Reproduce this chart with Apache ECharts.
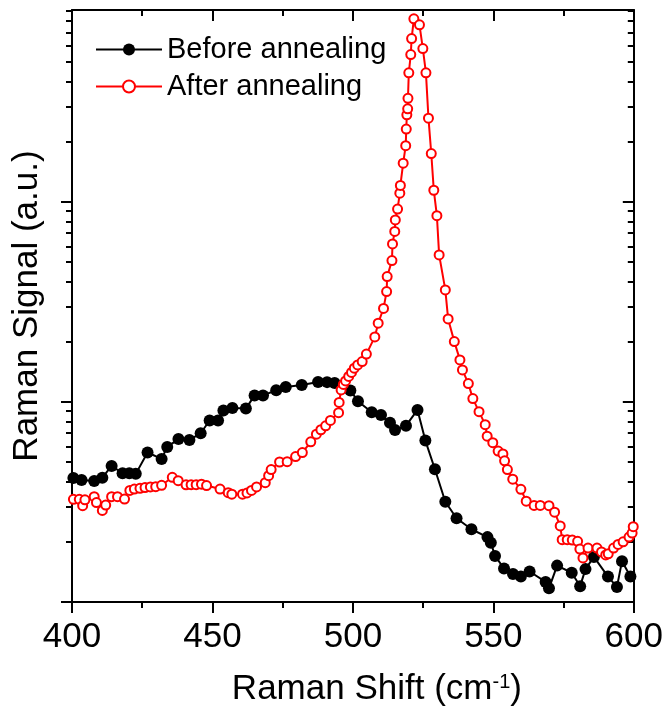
<!DOCTYPE html>
<html lang="en" style="height: 100%">
<head>
    <meta charset="utf-8">
    <script src="https://cdn.jsdelivr.net/npm/echarts@6/dist/echarts.min.js"></script>
</head>
<body style="height: 100%; margin: 0; background: #fff">
<div id="container" style="width: 666px; height: 715px"></div>
<script type="text/javascript">
    // Raman shift (cm-1) and signal (a.u., log scale)
    var shiftBefore = [400.5, 403.4, 407.9, 410.8, 414.1, 418.0, 420.4, 422.7, 426.9, 431.9,
        433.9, 437.9, 441.8, 445.8, 449.0, 452.0, 453.9, 457.1, 461.9, 465.0,
        468.0, 472.7, 476.1, 481.8, 487.6, 490.8, 493.5, 499.1, 501.8, 506.7,
        510.0, 513.2, 515.0, 518.9, 523.0, 525.8, 529.2, 532.9, 536.9, 542.2,
        547.9, 549.1, 550.6, 553.8, 557.0, 559.8, 562.9, 568.6, 569.8, 572.7,
        577.9, 580.9, 582.8, 585.8, 590.8, 594.0, 595.8, 598.8];
    var signalBefore = [4.17, 4.07, 4.03, 4.18, 4.79, 4.40, 4.40, 4.37, 5.59, 5.19,
        5.96, 6.52, 6.46, 6.97, 8.08, 8.08, 9.07, 9.33, 9.26, 10.78,
        10.78, 11.44, 11.89, 12.16, 12.59, 12.56, 12.45, 11.42, 10.08, 8.88,
        8.61, 7.88, 7.24, 7.61, 9.12, 6.41, 4.61, 3.17, 2.62, 2.31,
        2.11, 1.98, 1.70, 1.47, 1.38, 1.34, 1.42, 1.26, 1.17, 1.52,
        1.40, 1.20, 1.46, 1.68, 1.34, 1.19, 1.60, 1.34];

    var shiftAfter = [400.5, 402.6, 403.8, 404.6, 407.9, 408.7, 410.8, 412.0, 414.1, 416.2,
        418.7, 420.6, 422.2, 424.2, 426.0, 427.9, 429.8, 431.9, 435.7, 437.8,
        440.6, 442.4, 444.2, 446.1, 447.9, 452.7, 455.6, 456.9, 460.7, 462.3,
        463.9, 465.7, 468.8, 470.0, 470.9, 473.9, 476.6, 479.6, 482.0, 485.0,
        487.0, 488.6, 490.3, 492.0, 494.9, 495.1, 495.8, 496.6, 497.4, 498.5,
        499.5, 500.5, 501.7, 503.3, 504.8, 507.8, 509.0, 510.9, 512.0, 512.2,
        513.9, 514.1, 514.9, 515.1, 515.9, 516.7, 516.9, 517.9, 518.8, 519.0,
        519.2, 519.5, 519.6, 519.9, 520.6, 520.9, 521.7, 523.7, 524.9, 526.0,
        526.9, 527.9, 528.8, 529.9, 530.7, 532.9, 533.9, 536.1, 538.1, 539.0,
        541.1, 542.7, 544.9, 547.1, 547.8, 549.8, 551.7, 553.4, 554.0, 555.0,
        556.9, 559.8, 561.7, 564.5, 566.7, 569.8, 571.8, 573.8, 574.5, 576.3,
        578.1, 580.0, 580.8, 581.9, 583.7, 586.9, 588.5, 590.0, 590.9, 592.8,
        594.4, 596.2, 598.3, 599.4, 599.8];
    var signalAfter = [3.26, 3.26, 3.03, 3.24, 3.36, 3.14, 2.87, 3.05, 3.36, 3.36,
        3.27, 3.61, 3.67, 3.70, 3.73, 3.76, 3.77, 3.83, 4.20, 4.04,
        3.85, 3.86, 3.86, 3.88, 3.82, 3.67, 3.52, 3.46, 3.46, 3.51,
        3.61, 3.76, 3.95, 4.28, 4.59, 5.01, 5.03, 5.33, 5.58, 6.32,
        6.90, 7.26, 7.60, 8.08, 8.84, 9.94, 11.48, 12.23, 12.74, 13.42,
        14.05, 14.74, 15.31, 15.91, 17.34, 21.13, 24.75, 29.35, 35.60, 42.32,
        50.87, 61.66, 71.20, 81.28, 92.04, 110.5, 120.9, 156.1, 191.0, 231.2,
        272.3, 291.7, 329.3, 441.6, 545.0, 654.6, 822.2, 767.4, 584.1, 441.6,
        262.1, 174.4, 114.3, 85.3, 54.3, 36.3, 26.0, 20.02, 16.22, 14.45,
        12.35, 10.39, 8.94, 7.70, 6.74, 6.26, 5.68, 5.50, 5.08, 4.59,
        4.11, 3.66, 3.19, 3.04, 3.04, 3.03, 2.81, 2.40, 2.05, 2.05,
        2.04, 2.01, 1.84, 1.66, 1.86, 1.86, 1.78, 1.72, 1.74, 1.86,
        1.94, 2.00, 2.11, 2.21, 2.38];

    var xTicks = [400, 450, 500, 550, 600];
    var yMajor = [1, 10, 100];
    var yMinor = [2, 3, 4, 5, 6, 7, 8, 9, 20, 30, 40, 50, 60, 70, 80, 90,
        200, 300, 400, 500, 600, 700, 800, 900];

    function pairs(xs, ys) {
        var out = [];
        for (var i = 0; i < xs.length; i++) out.push([xs[i], ys[i]]);
        return out;
    }

    var font = 'Liberation Sans';
    var yMin = 1, yMax = 910;

    function yAxisOf(pos, ticks, len, withLine) {
        return {
            type: 'log', logBase: 10, position: pos, min: yMin, max: yMax,
            axisLine: {show: withLine, lineStyle: {color: '#000', width: 2}},
            axisTick: {show: true, customValues: ticks, length: len, inside: pos === 'right',
                lineStyle: {color: '#000', width: 2}},
            axisLabel: {show: false},
            splitLine: {show: false},
            minorTick: {show: false}
        };
    }

    var myChart = echarts.init(document.getElementById('container'));
    var yLeft = yAxisOf('left', yMajor, 11, true);
    yLeft.name = 'Raman Signal (a.u.)';
    yLeft.nameLocation = 'middle';
    yLeft.nameGap = 27;
    yLeft.nameTextStyle = {fontFamily: font, fontSize: 35, color: '#000'};

    var option = {
        animation: false,
        textStyle: {fontFamily: font},
        grid: {left: 72, right: 31, top: 10, bottom: 113},
        legend: {
            orient: 'vertical', left: 90, top: 29,
            itemWidth: 66, itemHeight: 15, itemGap: 6,
            textStyle: {fontFamily: font, fontSize: 29, color: '#000', lineHeight: 31},
            data: ['Before annealing', 'After annealing']
        },
        xAxis: [{
            type: 'value', position: 'bottom', min: 400, max: 600, interval: 50,
            axisLine: {onZero: false, lineStyle: {color: '#000', width: 2}},
            axisTick: {length: 11, lineStyle: {color: '#000', width: 2}},
            minorTick: {show: true, splitNumber: 2, length: 6, lineStyle: {color: '#000', width: 2}},
            axisLabel: {fontFamily: font, fontSize: 35, color: '#000', margin: 18,
                customValues: xTicks},
            splitLine: {show: false},
            name: 'Raman Shift (cm{sup|-1})',
            nameLocation: 'middle', nameGap: 70,
            nameTextStyle: {fontFamily: font, fontSize: 35, color: '#000', padding: [0, 0, 0, 48],
                rich: {sup: {fontFamily: font, fontSize: 20, verticalAlign: 'top', color: '#000'}}}
        }, {
            type: 'value', position: 'top', min: 400, max: 600, interval: 50,
            axisLine: {onZero: false, lineStyle: {color: '#000', width: 2}},
            axisTick: {inside: true, length: 11, lineStyle: {color: '#000', width: 2}},
            minorTick: {show: true, splitNumber: 2, length: 6, lineStyle: {color: '#000', width: 2}},
            axisLabel: {show: false},
            splitLine: {show: false}
        }],
        yAxis: [
            yLeft,
            yAxisOf('left', yMinor, 6, false),
            yAxisOf('right', yMajor, 11, true),
            yAxisOf('right', yMinor, 6, false)
        ],
        series: [{
            name: 'Before annealing',
            type: 'line',
            xAxisIndex: 0, yAxisIndex: 0,
            symbol: 'circle', symbolSize: 12,
            itemStyle: {color: '#000'},
            lineStyle: {color: '#000', width: 2},
            data: pairs(shiftBefore, signalBefore)
        }, {
            name: 'After annealing',
            type: 'line',
            xAxisIndex: 0, yAxisIndex: 0,
            symbol: 'emptyCircle', symbolSize: 9,
            itemStyle: {color: '#ff0000', borderWidth: 2.5},
            lineStyle: {color: '#ff0000', width: 2},
            data: pairs(shiftAfter, signalAfter)
        }]
    };

    myChart.setOption(option);
</script>
</body>
</html>
